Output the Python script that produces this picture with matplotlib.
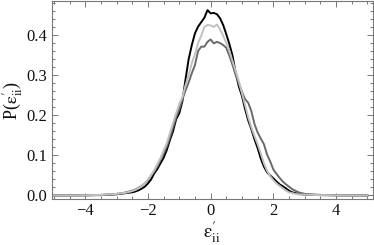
import numpy as np
import matplotlib
matplotlib.use("Agg")
import matplotlib.pyplot as plt
from matplotlib.ticker import MultipleLocator

plt.rcParams['font.family'] = ['Liberation Serif', 'DejaVu Serif']
plt.rcParams['mathtext.fontset'] = 'stix'

x = [-5.0, -4.5, -4.0, -3.5,
     -3.0, -2.9, -2.8, -2.7, -2.6, -2.5, -2.4, -2.3, -2.2, -2.1,
     -2.0, -1.9, -1.8, -1.7, -1.6, -1.5, -1.4, -1.3, -1.2, -1.1,
     -1.0, -0.9, -0.8, -0.7, -0.6, -0.5, -0.4, -0.3, -0.2, -0.1,
     0.0, 0.1, 0.2, 0.3, 0.4, 0.5, 0.6, 0.7, 0.8, 0.9,
     1.0, 1.1, 1.2, 1.3, 1.4, 1.5, 1.6, 1.7, 1.8, 1.9,
     2.0, 2.1, 2.2, 2.3, 2.4, 2.5, 2.6, 2.7, 2.8, 2.9,
     3.0, 3.5, 4.0, 4.5, 5.0]

p_black = [0.0, 0.0003, 0.0005, 0.001,
           0.003, 0.004, 0.005, 0.006, 0.007, 0.008, 0.010, 0.013, 0.017, 0.022,
           0.030, 0.040, 0.055, 0.066, 0.080, 0.094, 0.113, 0.138, 0.160, 0.190,
           0.205, 0.235, 0.290, 0.340, 0.375, 0.404, 0.421, 0.432, 0.443, 0.462,
           0.454, 0.455, 0.452, 0.442, 0.425, 0.402, 0.377, 0.348, 0.305, 0.272,
           0.248, 0.215, 0.187, 0.165, 0.140, 0.118, 0.092, 0.072, 0.058, 0.050,
           0.043, 0.035, 0.028, 0.023, 0.018, 0.012, 0.008, 0.006, 0.004, 0.003,
           0.002, 0.001, 0.0005, 0.0002, 0.0]

p_dark = [0.0, 0.0003, 0.0006, 0.0015,
          0.004, 0.005, 0.006, 0.008, 0.010, 0.012, 0.015, 0.019, 0.024, 0.030,
          0.038, 0.050, 0.060, 0.072, 0.090, 0.105, 0.122, 0.145, 0.170, 0.195,
          0.215, 0.240, 0.262, 0.282, 0.305, 0.325, 0.360, 0.371, 0.371, 0.383,
          0.389, 0.379, 0.383, 0.380, 0.375, 0.368, 0.348, 0.325, 0.300, 0.280,
          0.258, 0.240, 0.231, 0.210, 0.178, 0.157, 0.142, 0.128, 0.102, 0.085,
          0.065, 0.054, 0.044, 0.035, 0.028, 0.022, 0.016, 0.012, 0.008, 0.006,
          0.004, 0.0015, 0.0006, 0.0002, 0.0]

p_light = [0.0, 0.0003, 0.0006, 0.0015,
           0.004, 0.005, 0.006, 0.007, 0.009, 0.011, 0.014, 0.018, 0.023, 0.030,
           0.040, 0.050, 0.063, 0.078, 0.093, 0.112, 0.130, 0.155, 0.180, 0.205,
           0.228, 0.245, 0.275, 0.300, 0.330, 0.352, 0.380, 0.398, 0.420, 0.425,
           0.424, 0.420, 0.426, 0.414, 0.398, 0.380, 0.360, 0.335, 0.310, 0.285,
           0.255, 0.225, 0.195, 0.170, 0.148, 0.128, 0.105, 0.080, 0.062, 0.048,
           0.038, 0.030, 0.024, 0.018, 0.012, 0.008, 0.006, 0.004, 0.003, 0.002,
           0.002, 0.001, 0.0005, 0.0002, 0.0]

x_ticks = [-4, -2, 0, 2, 4]
y_ticks = [0.0, 0.1, 0.2, 0.3, 0.4]
y_tick_labels = ["0.0", "0.1", "0.2", "0.3", "0.4"]

fig = plt.figure(figsize=(3.74, 2.45), dpi=100)
ax = fig.add_axes([0.1382, 0.1865, 0.8583, 0.8114])

ax.plot(x, p_black, color='#000000', lw=1.4)
ax.plot(x, p_dark, color='#6a6a6a', lw=1.4)
ax.plot(x, p_light, color='#c0c0c0', lw=1.4)

ax.set_xlim(-5.07, 5.17)
ax.set_ylim(-0.0095, 0.486)

ax.set_xticks(x_ticks)
ax.set_xticklabels([("\u2212%d" % abs(v)) if v < 0 else "%d" % v for v in x_ticks])
ax.set_yticks(y_ticks)
ax.set_yticklabels(y_tick_labels)
ax.xaxis.set_minor_locator(MultipleLocator(0.5))
ax.yaxis.set_minor_locator(MultipleLocator(0.02))

frame_col = '#777777'
for s in ax.spines.values():
    s.set_color(frame_col)
    s.set_linewidth(0.8)
ax.tick_params(which='both', direction='in', top=True, right=True,
               color=frame_col, width=0.7, labelsize=12, labelcolor='#111111')
ax.tick_params(which='major', length=4, pad=3)
ax.tick_params(which='minor', length=2.2)

eps = r"$\mathrm{\epsilon}^{\prime}_{\mathrm{ii}}$"
ax.set_xlabel(eps, fontsize=13.5, labelpad=0, color='#111111')
ax.set_ylabel("P(" + eps + ")", fontsize=13, labelpad=1, color='#111111')

fig.savefig("out.png", dpi=100)
